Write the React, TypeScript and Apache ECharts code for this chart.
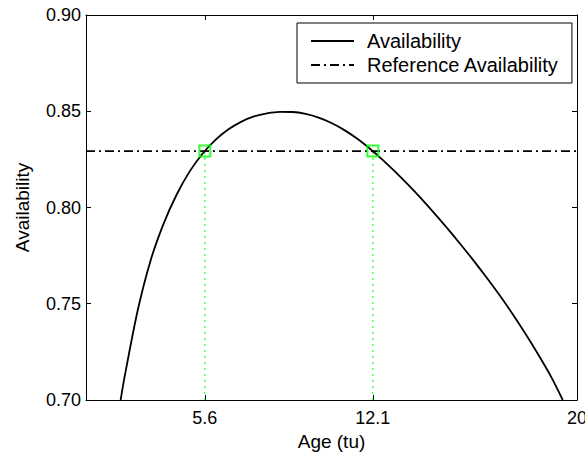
import React, { useEffect, useRef } from "react";
import * as echarts from "echarts";

const ages = [2.34, 2.5, 3.0, 3.5, 4.0, 4.5, 5.0, 5.5, 6.0, 6.5, 7.0, 7.5, 8.0, 8.5, 9.0, 9.5, 10.0, 10.5, 11.0, 11.5, 12.0, 12.5, 13.0, 13.5, 14.0, 14.5, 15.0, 15.5, 16.0, 16.5, 17.0, 17.5, 18.0, 18.5, 19.0, 19.45];
const availability = [0.7, 0.7125, 0.7465, 0.7725, 0.7915, 0.8065, 0.8185, 0.8278, 0.835, 0.8405, 0.8445, 0.8473, 0.8489, 0.8497, 0.8496, 0.8486, 0.8467, 0.8439, 0.8402, 0.8357, 0.8304, 0.8245, 0.8181, 0.8113, 0.8042, 0.7967, 0.7889, 0.7808, 0.7724, 0.7636, 0.7545, 0.7448, 0.7345, 0.7236, 0.712, 0.7];
const referenceAvailability = 0.8293;
const crossingAges = [5.6, 12.1];
const xTickValues = [5.6, 12.1, 20];
const xRange = [1, 20];
const yRange = [0.7, 0.9];
const yInterval = 0.05;

const FONT = "'Liberation Sans', Arial, Helvetica, sans-serif";

export default function App() {
  const ref = useRef<HTMLDivElement>(null);
  useEffect(() => {
    if (!ref.current) return;
    const chart = echarts.init(ref.current, undefined, { renderer: "svg" });
    const curve = ages.map((a, i) => [a, availability[i]]);
    const refLine = [
      [xRange[0], referenceAvailability],
      [xRange[1], referenceAvailability],
    ];
    const markers = crossingAges.map((a) => [a, referenceAvailability]);
    const dropSeries = crossingAges.map((a) => ({
      type: "line",
      name: "drop" + a,
      data: [
        [a, yRange[0]],
        [a, referenceAvailability],
      ],
      symbol: "none",
      silent: true,
      lineStyle: { color: "#00ff00", width: 1, type: [2, 4] },
      z: 1,
    }));
    const axisLine = { show: true, lineStyle: { color: "#000", width: 1 } };
    chart.setOption({
      animation: false,
      textStyle: { fontFamily: FONT },
      grid: { left: 86, top: 15, right: 8, bottom: 52, containLabel: false, outerBoundsMode: "none" },
      legend: {
        orient: "vertical",
        left: 297,
        top: 23,
        data: ["Availability", "Reference Availability"],
        backgroundColor: "#fff",
        borderColor: "#000",
        borderWidth: 1,
        borderRadius: 0,
        padding: [8, 13, 8, 13],
        itemGap: 4,
        itemWidth: 43,
        itemHeight: 14,
        itemStyle: { opacity: 0 },
        textStyle: { fontSize: 20, color: "#000", fontFamily: FONT, padding: [0, 0, 0, 8] },
        selectedMode: false,
      },
      xAxis: [
        {
          type: "value",
          min: xRange[0],
          max: xRange[1],
          position: "bottom",
          name: "Age (tu)",
          nameLocation: "middle",
          nameGap: 32,
          nameTextStyle: { fontSize: 19, color: "#000", fontFamily: FONT },
          axisLine,
          axisTick: { show: true, inside: true, length: 5, customValues: xTickValues, lineStyle: { color: "#000" } },
          axisLabel: {
            show: true,
            customValues: xTickValues,
            fontSize: 18,
            color: "#000",
            margin: 9,
            fontFamily: FONT,
            formatter: (v: number) => String(Math.round(v * 10) / 10),
          },
          splitLine: { show: false },
        },
        {
          type: "value",
          min: xRange[0],
          max: xRange[1],
          position: "top",
          axisLine,
          axisTick: { show: true, inside: true, length: 5, customValues: xTickValues, lineStyle: { color: "#000" } },
          axisLabel: { show: false },
          splitLine: { show: false },
        },
      ],
      yAxis: [
        {
          type: "value",
          min: yRange[0],
          max: yRange[1],
          interval: yInterval,
          position: "left",
          name: "Availability",
          nameLocation: "middle",
          nameGap: 54,
          nameTextStyle: { fontSize: 19, color: "#000", fontFamily: FONT },
          axisLine,
          axisTick: { show: true, inside: true, length: 5, lineStyle: { color: "#000" } },
          axisLabel: {
            fontSize: 18,
            color: "#000",
            margin: 5,
            fontFamily: FONT,
            formatter: (v: number) => v.toFixed(2),
          },
          splitLine: { show: false },
        },
        {
          type: "value",
          min: yRange[0],
          max: yRange[1],
          interval: yInterval,
          position: "right",
          axisLine,
          axisTick: { show: true, inside: true, length: 5, lineStyle: { color: "#000" } },
          axisLabel: { show: false },
          splitLine: { show: false },
        },
      ],
      series: [
        ...dropSeries,
        {
          type: "line",
          name: "Availability",
          data: curve,
          smooth: 0.3,
          symbol: "none",
          lineStyle: { color: "#000", width: 1.8 },
          itemStyle: { color: "#000" },
          z: 3,
        },
        {
          type: "line",
          name: "Reference Availability",
          data: refLine,
          symbol: "none",
          lineStyle: { color: "#000", width: 1.6, type: [9, 4, 2, 4] },
          itemStyle: { color: "#000" },
          z: 2,
        },
        {
          type: "scatter",
          name: "crossings",
          data: markers,
          symbol: "rect",
          symbolSize: 11,
          itemStyle: { color: "rgba(0,0,0,0)", borderColor: "#00ff00", borderWidth: 2 },
          z: 4,
        },
      ],
    });
    return () => chart.dispose();
  }, []);
  return (
    <div
      ref={ref}
      style={{ position: "fixed", left: 0, top: 0, width: 585, height: 452, background: "#fff" }}
    />
  );
}
